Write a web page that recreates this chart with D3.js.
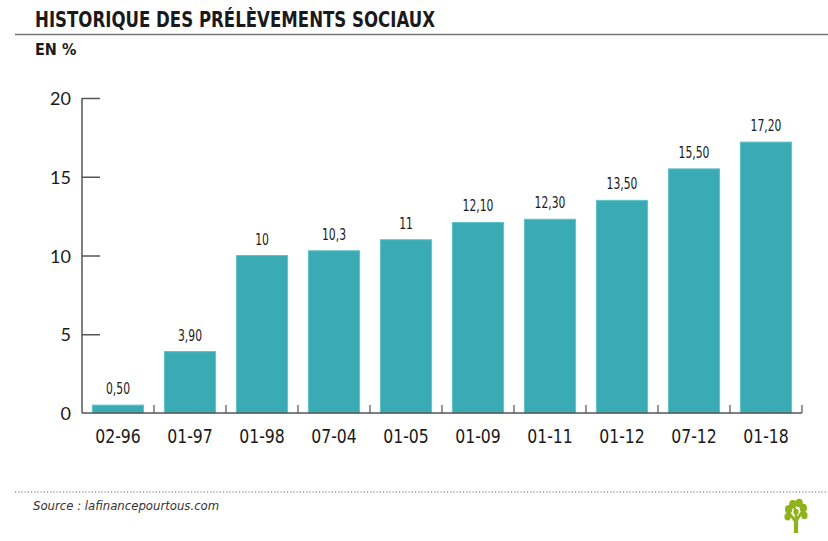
<!DOCTYPE html>
<html>
<head>
<meta charset="utf-8">
<script src="https://cdn.jsdelivr.net/npm/d3@7"></script>
<style>
  body { margin: 0; background: #fff; }
  svg { display: block; }
</style>
</head>
<body>
<svg id="visualization" width="828" height="541"></svg>
<script>
const categories = ["02-96", "01-97", "01-98", "07-04", "01-05", "01-09", "01-11", "01-12", "07-12", "01-18"];
const values = [0.5, 3.9, 10, 10.3, 11, 12.1, 12.3, 13.5, 15.5, 17.2];
const valueLabels = ["0,50", "3,90", "10", "10,3", "11", "12,10", "12,30", "13,50", "15,50", "17,20"];
const yTicks = [0, 5, 10, 15, 20];

const condensed = "'DejaVu Sans Condensed', 'Liberation Sans Narrow', sans-serif";

const svg = d3.select("#visualization");

const margin = { top: 98, left: 82, right: 26, bottom: 128 };
const width = 828 - margin.left - margin.right;
const height = 541 - margin.top - margin.bottom;

// header
svg.append("text")
    .attr("x", 35).attr("y", 27)
    .attr("font-family", condensed)
    .attr("font-weight", "bold")
    .attr("font-size", 22)
    .attr("textLength", 400)
    .attr("lengthAdjust", "spacingAndGlyphs")
    .attr("fill", "#1a1a1a")
    .text("HISTORIQUE DES PRÉLÈVEMENTS SOCIAUX");

svg.append("line")
    .attr("x1", 15).attr("x2", 828)
    .attr("y1", 34.5).attr("y2", 34.5)
    .attr("stroke", "#777").attr("stroke-width", 1.5);

svg.append("text")
    .attr("x", 35).attr("y", 55)
    .attr("font-family", condensed)
    .attr("font-weight", "bold")
    .attr("font-size", 16)
    .attr("fill", "#1a1a1a")
    .text("EN %");

const xScale = d3.scaleBand()
    .domain(categories)
    .range([0, width])
    .paddingInner(0.29)
    .paddingOuter(0.145);

const yScale = d3.scaleLinear()
    .domain([0, 20])
    .range([height, 0]);

const chart = svg.append("g")
    .attr("transform", `translate(${margin.left}, ${margin.top})`);

// bars
chart.selectAll(".bar")
    .data(values)
    .join("rect")
    .attr("class", "bar")
    .attr("x", (d, i) => xScale(categories[i]))
    .attr("y", d => yScale(d))
    .attr("width", xScale.bandwidth())
    .attr("height", d => height - yScale(d))
    .attr("fill", "#3aabb5")
    .attr("stroke", "#5cc3ca")
    .attr("stroke-width", 1);

chart.selectAll(".val")
    .data(values)
    .join("text")
    .attr("class", "val")
    .attr("transform", (d, i) => `translate(${xScale(categories[i]) + xScale.bandwidth() / 2}, ${yScale(d) - 11}) scale(0.8, 1)`)
    .attr("text-anchor", "middle")
    .attr("font-family", condensed)
    .attr("font-size", 15)
    .attr("fill", "#1a1a1a")
    .text((d, i) => valueLabels[i]);

// y axis
const yAxis = chart.append("g")
    .call(d3.axisRight(yScale).tickValues(yTicks.slice(1)).tickSize(18).tickFormat(""));
yAxis.select(".domain").remove();
yAxis.selectAll("line").attr("stroke", "#555").attr("stroke-width", 1.5);

chart.append("line")
    .attr("x1", 0).attr("x2", 0)
    .attr("y1", yScale(20)).attr("y2", height)
    .attr("stroke", "#555").attr("stroke-width", 1.5);

chart.selectAll(".ylab")
    .data(yTicks)
    .join("text")
    .attr("class", "ylab")
    .attr("x", -11)
    .attr("y", d => yScale(d) + 7)
    .attr("text-anchor", "end")
    .attr("font-family", "Lato, 'Open Sans', sans-serif")
    .attr("font-size", 18)
    .attr("fill", "#1a1a1a")
    .text(d => d);

// x axis
chart.append("line")
    .attr("x1", 0).attr("x2", width)
    .attr("y1", height).attr("y2", height)
    .attr("stroke", "#555").attr("stroke-width", 1.5);

const step = xScale.step();
chart.selectAll(".xtick")
    .data(categories)
    .join("line")
    .attr("class", "xtick")
    .attr("x1", d => xScale(d) - xScale.paddingOuter() * step + step)
    .attr("x2", d => xScale(d) - xScale.paddingOuter() * step + step)
    .attr("y1", height).attr("y2", height - 8)
    .attr("stroke", "#555").attr("stroke-width", 1.2);

chart.selectAll(".xlab")
    .data(categories)
    .join("text")
    .attr("class", "xlab")
    .attr("transform", d => `translate(${xScale(d) + xScale.bandwidth() / 2}, ${height + 30}) scale(0.92, 1)`)
    .attr("text-anchor", "middle")
    .attr("font-family", condensed)
    .attr("font-size", 19)
    .attr("fill", "#1a1a1a")
    .text(d => d);

// footer
svg.append("line")
    .attr("x1", 15).attr("x2", 828)
    .attr("y1", 492).attr("y2", 492)
    .attr("stroke", "#666").attr("stroke-width", 1.2)
    .attr("stroke-dasharray", "1.2,2");

svg.append("text")
    .attr("x", 33).attr("y", 510)
    .attr("font-family", condensed)
    .attr("font-style", "italic")
    .attr("font-size", 13)
    .attr("fill", "#333")
    .text("Source : lafinancepourtous.com");

// logo tree
const logo = svg.append("g").attr("transform", "translate(796, 518) scale(1.05, 1.25)").attr("fill", "#8fb21c");
logo.append("path").attr("d", "M-2,12 L2,12 L2,2 L8,-6 L6,-7 L1,-1 L0,-8 L-2,-8 L-1,0 L-6,-5 L-8,-4 L-2,3 Z");
[[-7,-7,3.5],[-3,-11,3.5],[3,-12,3.5],[7,-8,3.5],[8,-2,3],[-8,-1,3],[0,-5,2.5]].forEach(c => {
    logo.append("circle").attr("cx", c[0]).attr("cy", c[1]).attr("r", c[2]);
});
</script>
</body>
</html>
